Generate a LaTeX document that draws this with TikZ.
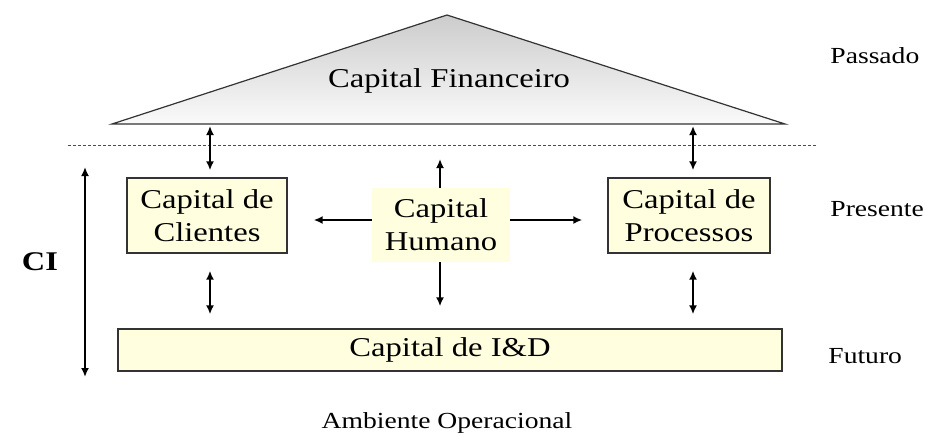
\documentclass[tikz,border=0pt]{standalone}
\usepackage{fontspec}
\setmainfont{Liberation Serif}[FakeStretch=1.2]
\usetikzlibrary{arrows.meta,calc}
\definecolor{boxfill}{HTML}{FFFFDF}
\definecolor{edge}{HTML}{333333}
\newcommand\mainfs{\fontsize{13.6}{16.5}\selectfont}
\newcommand\sidefs{\fontsize{11.5}{14}\selectfont}
\begin{document}
\begin{tikzpicture}[x=0.5pt,y=-0.5pt,
  capbox/.style={draw=edge, line width=0.7pt, fill=boxfill, minimum width=80pt,
    minimum height=37.5pt, inner sep=0pt, align=center, font=\mainfs},
  softbox/.style={fill=boxfill, minimum width=69pt, minimum height=37pt,
    inner sep=0pt, align=center, font=\mainfs},
  sidelabel/.style={anchor=west, inner sep=0pt, font=\sidefs},
  tip/.tip={Latex[length=4.5pt,width=4pt]},
  dar/.style={{tip}-{tip}, line width=1.2pt},
  sar/.style={-{tip}, line width=1.2pt}]
\useasboundingbox (0,0) rectangle (925,435);

% triangle
\coordinate (apex) at (447,15);
\coordinate (bl) at (112,124);
\coordinate (br) at (785,124);
\shade[top color=black!20, bottom color=black!2] (apex) -- (br) -- (bl) -- cycle;
\draw[edge, line width=0.6pt] (apex) -- (br) -- (bl) -- cycle;
\node[font=\mainfs] (fin) at (449,81) {Capital Financeiro};

% dashed separator
\coordinate (dl) at (68,145);
\coordinate (dr) at (818,145);
\draw[black!70, line width=0.5pt, dash pattern=on 1.5pt off 1pt] (dl) -- (dr);

% boxes
\node[capbox] (cl) at (207,215.5) {Capital de\\Clientes};
\node[capbox, minimum width=81pt] (pr) at (689,215.5) {Capital de\\Processos};
\node[softbox] (hu) at (441,225) {Capital\\Humano};
\node[capbox, minimum width=332pt, minimum height=21pt] (id) at (450,350) {Capital de I\&D};

% connectors
\coordinate (t1) at (210,124);
\coordinate (t2) at (693,124);
\draw[dar, shorten <=1pt, shorten >=3.5pt] (t1) -- (t1 |- cl.north);
\draw[dar, shorten <=1pt, shorten >=3.5pt] (t2) -- (t2 |- pr.north);
\draw[dar, shorten <=8.5pt, shorten >=7pt] (t1 |- cl.south) -- (t1 |- id.north);
\draw[dar, shorten <=8.5pt, shorten >=7pt] (t2 |- pr.south) -- (t2 |- id.north);
\coordinate (hx) at (440,0);
\coordinate (hup) at (440,159);
\draw[sar] (hx |- hu.north) -- (hup);
\draw[sar, shorten >=13pt] (hu.west |- 0,220) -- (cl.east |- 0,220);
\draw[sar, shorten >=12.5pt] (hu.east |- 0,220) -- (pr.west |- 0,220);
\draw[sar, shorten >=11pt] (hx |- hu.south) -- (hx |- id.north);

% CI axis
\coordinate (ciTop) at (85,167);
\coordinate (ciBot) at (85,377);
\draw[dar] (ciTop) -- (ciBot);
\node[font=\fontsize{13.5}{16}\selectfont\bfseries] (ci) at (40,262) {CI};

% side labels
\node[sidelabel] (pas) at (830,56) {Passado};
\node[sidelabel] (pre) at (830,209) {Presente};
\node[sidelabel] (fut) at (828,356) {Futuro};
\node[font=\sidefs] (amb) at (447,423) {Ambiente Operacional};
\end{tikzpicture}
\end{document}
